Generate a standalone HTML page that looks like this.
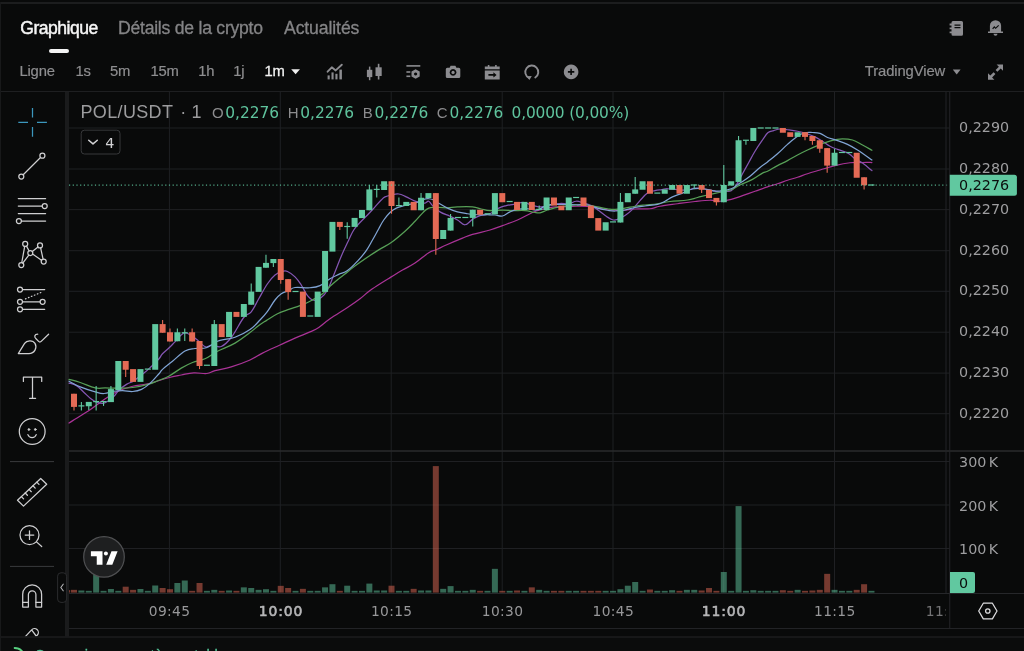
<!DOCTYPE html>
<html lang="fr">
<head>
<meta charset="utf-8">
<title>POL/USDT</title>
<style>
*{box-sizing:border-box;margin:0;padding:0}
html,body{width:1024px;height:651px;overflow:hidden;background:#090a0a}
body{position:relative;font-family:"Liberation Sans",sans-serif;color:#8e8e90}
.abs{position:absolute;white-space:nowrap}
.num{font-family:"DejaVu Sans","Liberation Sans",sans-serif}
#topline{left:0;top:2px;width:1024px;height:2px;background:#1c1d1e}
#leftline{left:0;top:2px;width:1px;height:649px;background:#18191a}
.tab{font-size:17.6px;line-height:20px;top:18px;color:#848486;-webkit-text-stroke:0.3px #848486;letter-spacing:-0.24px}
.tab.on{color:#f6f6f6;-webkit-text-stroke:0.45px #f6f6f6;letter-spacing:-0.52px}
#underline{left:49px;top:49px;width:20px;height:3.5px;border-radius:2px;background:#f4f4f4}
.tf{font-size:14.8px;line-height:18px;top:62px;color:#8e8e90;-webkit-text-stroke:0.2px #8e8e90;letter-spacing:-0.2px}
.tf.on{color:#f2f2f2;-webkit-text-stroke:0.3px #f2f2f2}
#hdiv{left:0;top:91px;width:1024px;height:1px;background:#1e1f21}
#vband{left:64.5px;top:92px;width:4.5px;height:545px;background:#1a1b1c}
#svgroot{left:0;top:0}
.pl{font-size:14.3px;line-height:16px;color:#9e9ea0;left:959.1px;letter-spacing:0px}
.tl{font-size:13.8px;line-height:16px;color:#98989a;top:603.4px;transform:translateX(-50%);letter-spacing:0.35px}
.tl.b{font-weight:normal;color:#b6b6b8;-webkit-text-stroke:0.6px #b6b6b8;letter-spacing:0.85px;font-size:13.9px}
.lg{top:101.1px;line-height:22px}
.lt{font-size:18px;color:#9c9c9e}
.lk{font-size:15px;color:#8c8c8e;top:101.5px}
.lv{font-size:15.4px;color:#5fc39d;top:102.2px}
#status{left:0;top:636px;width:1024px;height:15px;background:#0b0c0c;border-top:1px solid #202123}
#statustxt{left:34.5px;top:645.5px;font-size:14.6px;line-height:18px;color:#52c095;-webkit-text-stroke:0.3px #52c095}
</style>
</head>
<body>
<div id="wrap" style="position:absolute;left:0;top:0;width:1024px;height:651px;will-change:transform">
<div class="abs" id="topline"></div>
<div class="abs" id="leftline"></div>

<div class="abs tab on" style="left:20.3px">Graphique</div>
<div class="abs tab" style="left:118px">Détails de la crypto</div>
<div class="abs tab" style="left:284px;letter-spacing:-0.1px">Actualités</div>
<div class="abs" id="underline"></div>

<div class="abs tf" style="left:19.5px">Ligne</div>
<div class="abs tf" style="left:75.4px">1s</div>
<div class="abs tf" style="left:110px">5m</div>
<div class="abs tf" style="left:150.4px">15m</div>
<div class="abs tf" style="left:198.3px">1h</div>
<div class="abs tf" style="left:233.3px">1j</div>
<div class="abs tf on" style="left:264.4px">1m</div>
<div class="abs tf" style="left:864.8px;letter-spacing:-0.1px">TradingView</div>
<div class="abs" id="hdiv"></div>
<div class="abs" id="vband"></div>

<svg class="abs" id="svgroot" width="1024" height="651" viewBox="0 0 1024 651">
<line x1="69" y1="128.0" x2="949.5" y2="128.0" stroke="#1f2023" stroke-width="1"/>
<line x1="69" y1="169.0" x2="949.5" y2="169.0" stroke="#1f2023" stroke-width="1"/>
<line x1="69" y1="209.6" x2="949.5" y2="209.6" stroke="#1f2023" stroke-width="1"/>
<line x1="69" y1="250.7" x2="949.5" y2="250.7" stroke="#1f2023" stroke-width="1"/>
<line x1="69" y1="291.3" x2="949.5" y2="291.3" stroke="#1f2023" stroke-width="1"/>
<line x1="69" y1="332.2" x2="949.5" y2="332.2" stroke="#1f2023" stroke-width="1"/>
<line x1="69" y1="373.1" x2="949.5" y2="373.1" stroke="#1f2023" stroke-width="1"/>
<line x1="69" y1="413.7" x2="949.5" y2="413.7" stroke="#1f2023" stroke-width="1"/>
<line x1="69" y1="461.5" x2="949.5" y2="461.5" stroke="#1f2023" stroke-width="1"/>
<line x1="69" y1="505.0" x2="949.5" y2="505.0" stroke="#1f2023" stroke-width="1"/>
<line x1="69" y1="548.5" x2="949.5" y2="548.5" stroke="#1f2023" stroke-width="1"/>
<line x1="169.4" y1="92" x2="169.4" y2="592.5" stroke="#1f2023" stroke-width="1"/>
<line x1="280.3" y1="92" x2="280.3" y2="592.5" stroke="#1f2023" stroke-width="1"/>
<line x1="391.2" y1="92" x2="391.2" y2="592.5" stroke="#1f2023" stroke-width="1"/>
<line x1="502.2" y1="92" x2="502.2" y2="592.5" stroke="#1f2023" stroke-width="1"/>
<line x1="613.0" y1="92" x2="613.0" y2="592.5" stroke="#1f2023" stroke-width="1"/>
<line x1="723.7" y1="92" x2="723.7" y2="592.5" stroke="#1f2023" stroke-width="1"/>
<line x1="834.5" y1="92" x2="834.5" y2="592.5" stroke="#1f2023" stroke-width="1"/>
<rect x="71.00" y="589.85" width="6.0" height="2.75" fill="rgba(228,106,85,0.50)"/>
<rect x="78.38" y="590.50" width="6.0" height="2.10" fill="rgba(97,200,160,0.50)"/>
<rect x="85.77" y="590.85" width="6.0" height="1.75" fill="rgba(97,200,160,0.50)"/>
<rect x="93.15" y="573.85" width="6.0" height="18.75" fill="rgba(97,200,160,0.50)"/>
<rect x="100.54" y="590.85" width="6.0" height="1.75" fill="rgba(97,200,160,0.50)"/>
<rect x="107.92" y="589.00" width="6.0" height="3.60" fill="rgba(97,200,160,0.50)"/>
<rect x="115.30" y="590.85" width="6.0" height="1.75" fill="rgba(97,200,160,0.50)"/>
<rect x="122.69" y="586.70" width="6.0" height="5.90" fill="rgba(228,106,85,0.50)"/>
<rect x="130.07" y="589.85" width="6.0" height="2.75" fill="rgba(228,106,85,0.50)"/>
<rect x="137.46" y="589.00" width="6.0" height="3.60" fill="rgba(97,200,160,0.50)"/>
<rect x="144.84" y="590.85" width="6.0" height="1.75" fill="rgba(97,200,160,0.50)"/>
<rect x="152.22" y="585.50" width="6.0" height="7.10" fill="rgba(97,200,160,0.50)"/>
<rect x="159.61" y="588.00" width="6.0" height="4.60" fill="rgba(228,106,85,0.50)"/>
<rect x="166.99" y="589.20" width="6.0" height="3.40" fill="rgba(228,106,85,0.50)"/>
<rect x="174.38" y="583.00" width="6.0" height="9.60" fill="rgba(97,200,160,0.50)"/>
<rect x="181.76" y="580.50" width="6.0" height="12.10" fill="rgba(97,200,160,0.50)"/>
<rect x="189.14" y="590.85" width="6.0" height="1.75" fill="rgba(228,106,85,0.50)"/>
<rect x="196.53" y="583.00" width="6.0" height="9.60" fill="rgba(228,106,85,0.50)"/>
<rect x="203.91" y="590.85" width="6.0" height="1.75" fill="rgba(97,200,160,0.50)"/>
<rect x="211.30" y="589.85" width="6.0" height="2.75" fill="rgba(97,200,160,0.50)"/>
<rect x="218.68" y="590.85" width="6.0" height="1.75" fill="rgba(228,106,85,0.50)"/>
<rect x="226.06" y="590.50" width="6.0" height="2.10" fill="rgba(97,200,160,0.50)"/>
<rect x="233.45" y="590.85" width="6.0" height="1.75" fill="rgba(228,106,85,0.50)"/>
<rect x="240.83" y="587.35" width="6.0" height="5.25" fill="rgba(97,200,160,0.50)"/>
<rect x="248.22" y="588.00" width="6.0" height="4.60" fill="rgba(97,200,160,0.50)"/>
<rect x="255.60" y="589.85" width="6.0" height="2.75" fill="rgba(97,200,160,0.50)"/>
<rect x="262.98" y="589.20" width="6.0" height="3.40" fill="rgba(97,200,160,0.50)"/>
<rect x="270.37" y="590.85" width="6.0" height="1.75" fill="rgba(97,200,160,0.50)"/>
<rect x="277.75" y="585.85" width="6.0" height="6.75" fill="rgba(228,106,85,0.50)"/>
<rect x="285.14" y="588.00" width="6.0" height="4.60" fill="rgba(228,106,85,0.50)"/>
<rect x="292.52" y="590.85" width="6.0" height="1.75" fill="rgba(97,200,160,0.50)"/>
<rect x="299.90" y="588.85" width="6.0" height="3.75" fill="rgba(228,106,85,0.50)"/>
<rect x="307.29" y="590.85" width="6.0" height="1.75" fill="rgba(97,200,160,0.50)"/>
<rect x="314.67" y="590.85" width="6.0" height="1.75" fill="rgba(97,200,160,0.50)"/>
<rect x="322.06" y="587.35" width="6.0" height="5.25" fill="rgba(97,200,160,0.50)"/>
<rect x="329.44" y="584.20" width="6.0" height="8.40" fill="rgba(97,200,160,0.50)"/>
<rect x="336.82" y="590.85" width="6.0" height="1.75" fill="rgba(228,106,85,0.50)"/>
<rect x="344.21" y="585.70" width="6.0" height="6.90" fill="rgba(97,200,160,0.50)"/>
<rect x="351.59" y="590.85" width="6.0" height="1.75" fill="rgba(97,200,160,0.50)"/>
<rect x="358.98" y="590.85" width="6.0" height="1.75" fill="rgba(97,200,160,0.50)"/>
<rect x="366.36" y="583.60" width="6.0" height="9.00" fill="rgba(97,200,160,0.50)"/>
<rect x="373.74" y="590.50" width="6.0" height="2.10" fill="rgba(97,200,160,0.50)"/>
<rect x="381.13" y="590.50" width="6.0" height="2.10" fill="rgba(97,200,160,0.50)"/>
<rect x="388.51" y="585.70" width="6.0" height="6.90" fill="rgba(228,106,85,0.50)"/>
<rect x="395.90" y="590.85" width="6.0" height="1.75" fill="rgba(97,200,160,0.50)"/>
<rect x="403.28" y="590.85" width="6.0" height="1.75" fill="rgba(97,200,160,0.50)"/>
<rect x="410.66" y="588.85" width="6.0" height="3.75" fill="rgba(228,106,85,0.50)"/>
<rect x="418.05" y="590.50" width="6.0" height="2.10" fill="rgba(97,200,160,0.50)"/>
<rect x="425.43" y="590.50" width="6.0" height="2.10" fill="rgba(97,200,160,0.50)"/>
<rect x="432.82" y="466.10" width="6.0" height="126.50" fill="rgba(228,106,85,0.50)"/>
<rect x="440.20" y="588.85" width="6.0" height="3.75" fill="rgba(97,200,160,0.50)"/>
<rect x="447.58" y="586.10" width="6.0" height="6.50" fill="rgba(97,200,160,0.50)"/>
<rect x="454.97" y="590.85" width="6.0" height="1.75" fill="rgba(97,200,160,0.50)"/>
<rect x="462.35" y="590.85" width="6.0" height="1.75" fill="rgba(97,200,160,0.50)"/>
<rect x="469.74" y="589.85" width="6.0" height="2.75" fill="rgba(97,200,160,0.50)"/>
<rect x="477.12" y="590.85" width="6.0" height="1.75" fill="rgba(228,106,85,0.50)"/>
<rect x="484.50" y="590.85" width="6.0" height="1.75" fill="rgba(97,200,160,0.50)"/>
<rect x="491.89" y="568.85" width="6.0" height="23.75" fill="rgba(97,200,160,0.50)"/>
<rect x="499.27" y="590.85" width="6.0" height="1.75" fill="rgba(228,106,85,0.50)"/>
<rect x="506.66" y="590.85" width="6.0" height="1.75" fill="rgba(97,200,160,0.50)"/>
<rect x="514.04" y="590.50" width="6.0" height="2.10" fill="rgba(228,106,85,0.50)"/>
<rect x="521.42" y="590.85" width="6.0" height="1.75" fill="rgba(97,200,160,0.50)"/>
<rect x="528.81" y="587.35" width="6.0" height="5.25" fill="rgba(228,106,85,0.50)"/>
<rect x="536.19" y="589.85" width="6.0" height="2.75" fill="rgba(97,200,160,0.50)"/>
<rect x="543.58" y="590.85" width="6.0" height="1.75" fill="rgba(97,200,160,0.50)"/>
<rect x="550.96" y="590.85" width="6.0" height="1.75" fill="rgba(228,106,85,0.50)"/>
<rect x="558.34" y="590.85" width="6.0" height="1.75" fill="rgba(228,106,85,0.50)"/>
<rect x="565.73" y="590.85" width="6.0" height="1.75" fill="rgba(97,200,160,0.50)"/>
<rect x="573.11" y="590.85" width="6.0" height="1.75" fill="rgba(97,200,160,0.50)"/>
<rect x="580.50" y="590.85" width="6.0" height="1.75" fill="rgba(228,106,85,0.50)"/>
<rect x="587.88" y="590.85" width="6.0" height="1.75" fill="rgba(228,106,85,0.50)"/>
<rect x="595.26" y="590.85" width="6.0" height="1.75" fill="rgba(228,106,85,0.50)"/>
<rect x="602.65" y="590.85" width="6.0" height="1.75" fill="rgba(97,200,160,0.50)"/>
<rect x="610.03" y="590.85" width="6.0" height="1.75" fill="rgba(97,200,160,0.50)"/>
<rect x="617.42" y="589.20" width="6.0" height="3.40" fill="rgba(97,200,160,0.50)"/>
<rect x="624.80" y="585.70" width="6.0" height="6.90" fill="rgba(97,200,160,0.50)"/>
<rect x="632.18" y="582.00" width="6.0" height="10.60" fill="rgba(97,200,160,0.50)"/>
<rect x="639.57" y="590.85" width="6.0" height="1.75" fill="rgba(97,200,160,0.50)"/>
<rect x="646.95" y="589.50" width="6.0" height="3.10" fill="rgba(228,106,85,0.50)"/>
<rect x="654.34" y="590.85" width="6.0" height="1.75" fill="rgba(97,200,160,0.50)"/>
<rect x="661.72" y="590.85" width="6.0" height="1.75" fill="rgba(97,200,160,0.50)"/>
<rect x="669.10" y="590.20" width="6.0" height="2.40" fill="rgba(97,200,160,0.50)"/>
<rect x="676.49" y="590.85" width="6.0" height="1.75" fill="rgba(228,106,85,0.50)"/>
<rect x="683.87" y="589.85" width="6.0" height="2.75" fill="rgba(97,200,160,0.50)"/>
<rect x="691.26" y="589.85" width="6.0" height="2.75" fill="rgba(97,200,160,0.50)"/>
<rect x="698.64" y="590.50" width="6.0" height="2.10" fill="rgba(228,106,85,0.50)"/>
<rect x="706.02" y="588.00" width="6.0" height="4.60" fill="rgba(228,106,85,0.50)"/>
<rect x="713.41" y="590.85" width="6.0" height="1.75" fill="rgba(228,106,85,0.50)"/>
<rect x="720.79" y="572.00" width="6.0" height="20.60" fill="rgba(97,200,160,0.50)"/>
<rect x="728.18" y="590.85" width="6.0" height="1.75" fill="rgba(97,200,160,0.50)"/>
<rect x="735.56" y="506.10" width="6.0" height="86.50" fill="rgba(97,200,160,0.50)"/>
<rect x="742.94" y="590.85" width="6.0" height="1.75" fill="rgba(97,200,160,0.50)"/>
<rect x="750.33" y="590.20" width="6.0" height="2.40" fill="rgba(97,200,160,0.50)"/>
<rect x="757.71" y="590.85" width="6.0" height="1.75" fill="rgba(97,200,160,0.50)"/>
<rect x="765.10" y="590.85" width="6.0" height="1.75" fill="rgba(97,200,160,0.50)"/>
<rect x="772.48" y="590.85" width="6.0" height="1.75" fill="rgba(97,200,160,0.50)"/>
<rect x="779.86" y="590.20" width="6.0" height="2.40" fill="rgba(228,106,85,0.50)"/>
<rect x="787.25" y="590.85" width="6.0" height="1.75" fill="rgba(228,106,85,0.50)"/>
<rect x="794.63" y="589.85" width="6.0" height="2.75" fill="rgba(97,200,160,0.50)"/>
<rect x="802.02" y="590.85" width="6.0" height="1.75" fill="rgba(228,106,85,0.50)"/>
<rect x="809.40" y="590.50" width="6.0" height="2.10" fill="rgba(228,106,85,0.50)"/>
<rect x="816.78" y="589.85" width="6.0" height="2.75" fill="rgba(228,106,85,0.50)"/>
<rect x="824.17" y="573.85" width="6.0" height="18.75" fill="rgba(228,106,85,0.50)"/>
<rect x="831.55" y="589.85" width="6.0" height="2.75" fill="rgba(97,200,160,0.50)"/>
<rect x="838.94" y="590.85" width="6.0" height="1.75" fill="rgba(97,200,160,0.50)"/>
<rect x="846.32" y="590.85" width="6.0" height="1.75" fill="rgba(97,200,160,0.50)"/>
<rect x="853.70" y="589.85" width="6.0" height="2.75" fill="rgba(228,106,85,0.50)"/>
<rect x="861.09" y="584.20" width="6.0" height="8.40" fill="rgba(228,106,85,0.50)"/>
<rect x="868.47" y="590.85" width="6.0" height="1.75" fill="rgba(97,200,160,0.50)"/>
<rect x="69" y="590.10" width="1.2" height="2.5" fill="rgba(228,106,85,0.50)"/>
<path d="M69.00 423.00C69.75 422.52 68.75 423.08 72.75 420.60C76.75 418.12 82.50 414.97 89.00 410.60C95.50 406.23 99.50 402.62 105.25 398.75C111.00 394.88 112.25 393.75 117.75 391.25C123.25 388.75 126.75 387.75 132.75 386.25C138.75 384.75 140.42 385.50 147.75 383.75C155.08 382.00 162.70 379.25 169.40 377.50C176.10 375.75 176.38 375.92 181.25 375.00C186.12 374.08 188.62 373.20 193.75 372.90C198.88 372.60 202.65 373.96 206.90 373.50C211.15 373.04 210.13 371.92 215.00 370.60C219.87 369.28 224.25 369.02 231.25 366.90C238.25 364.78 243.75 362.76 250.00 360.00C256.25 357.24 256.50 356.10 262.50 353.10C268.50 350.10 273.50 348.00 280.00 345.00C286.50 342.00 289.00 340.72 295.00 338.10C301.00 335.48 305.25 334.02 310.00 331.90C314.75 329.78 314.75 330.13 318.75 327.50C322.75 324.87 324.25 322.75 330.00 318.75C335.75 314.75 341.50 311.50 347.50 307.50C353.50 303.50 355.50 302.13 360.00 298.75C364.50 295.37 365.25 294.05 370.00 290.60C374.75 287.15 379.50 284.24 383.75 281.50C388.00 278.76 387.50 279.20 391.25 276.90C395.00 274.60 397.75 272.76 402.50 270.00C407.25 267.24 409.75 266.55 415.00 263.10C420.25 259.65 424.50 255.42 428.75 252.75C433.00 250.08 432.75 251.30 436.25 249.75C439.75 248.20 441.00 247.33 446.25 245.00C451.50 242.67 457.25 240.22 462.50 238.10C467.75 235.98 467.00 236.02 472.50 234.40C478.00 232.78 484.00 231.76 490.00 230.00C496.00 228.24 497.00 227.60 502.50 225.60C508.00 223.60 511.50 222.62 517.50 220.00C523.50 217.38 527.50 214.62 532.50 212.50C537.50 210.38 538.40 210.46 542.50 209.40C546.60 208.34 549.50 207.70 553.00 207.20C556.50 206.70 555.35 207.09 560.00 206.90C564.65 206.71 570.75 206.33 576.25 206.25C581.75 206.17 583.25 206.13 587.50 206.50C591.75 206.87 593.50 207.45 597.50 208.10C601.50 208.75 604.00 209.32 607.50 209.75C611.00 210.18 611.50 210.15 615.00 210.25C618.50 210.35 621.00 210.50 625.00 210.25C629.00 210.00 630.00 209.30 635.00 209.00C640.00 208.70 645.00 209.30 650.00 208.75C655.00 208.20 654.50 207.25 660.00 206.25C665.50 205.25 670.50 204.70 677.50 203.75C684.50 202.80 688.50 202.20 695.00 201.50C701.50 200.80 705.00 200.30 710.00 200.25C715.00 200.20 715.75 201.42 720.00 201.25C724.25 201.08 726.75 200.53 731.25 199.40C735.75 198.27 737.75 197.23 742.50 195.60C747.25 193.97 750.00 192.99 755.00 191.25C760.00 189.51 763.00 188.40 767.50 186.90C772.00 185.40 773.50 185.08 777.50 183.75C781.50 182.42 783.50 181.55 787.50 180.25C791.50 178.95 793.50 178.55 797.50 177.25C801.50 175.95 803.00 175.20 807.50 173.75C812.00 172.30 814.50 171.63 820.00 170.00C825.50 168.37 829.00 167.05 835.00 165.60C841.00 164.15 844.50 163.37 850.00 162.75C855.50 162.13 858.12 162.55 862.50 162.50C866.88 162.45 870.02 162.50 871.90 162.50" fill="none" stroke="#aa3397" stroke-width="1.25" stroke-linejoin="round" stroke-linecap="round"/>
<path d="M69.00 383.10C70.50 383.60 73.50 383.72 76.50 385.60C79.50 387.48 81.12 389.87 84.00 392.50C86.88 395.13 88.40 396.83 90.90 398.75C93.40 400.67 94.13 401.17 96.50 402.10C98.87 403.03 100.50 403.57 102.75 403.40C105.00 403.23 105.50 402.68 107.75 401.25C110.00 399.82 111.75 398.50 114.00 396.25C116.25 394.00 116.50 392.37 119.00 390.00C121.50 387.63 123.50 386.28 126.50 384.40C129.50 382.52 130.50 382.86 134.00 380.60C137.50 378.34 140.50 375.97 144.00 373.10C147.50 370.23 148.50 369.12 151.50 366.25C154.50 363.38 156.80 361.25 159.00 358.75C161.20 356.25 160.42 356.00 162.50 353.75C164.58 351.50 166.90 349.87 169.40 347.50C171.90 345.13 172.13 344.78 175.00 341.90C177.87 339.02 180.50 334.36 183.75 333.10C187.00 331.84 188.25 333.97 191.25 335.60C194.25 337.23 195.88 338.99 198.75 341.25C201.62 343.51 202.85 346.15 205.60 346.90C208.35 347.65 209.37 345.08 212.50 345.00C215.63 344.92 217.50 348.00 221.25 346.50C225.00 345.00 226.75 343.30 231.25 337.50C235.75 331.70 239.75 322.62 243.75 317.50C247.75 312.38 248.25 315.65 251.25 311.90C254.25 308.15 255.50 304.38 258.75 298.75C262.00 293.12 264.25 288.50 267.50 283.75C270.75 279.00 272.00 277.45 275.00 275.00C278.00 272.55 280.00 272.20 282.50 271.50C285.00 270.80 285.00 270.42 287.50 271.50C290.00 272.58 292.25 274.20 295.00 276.90C297.75 279.60 298.75 281.26 301.25 285.00C303.75 288.74 305.00 292.55 307.50 295.60C310.00 298.65 311.00 299.87 313.75 300.25C316.50 300.63 318.50 299.55 321.25 297.50C324.00 295.45 325.00 294.50 327.50 290.00C330.00 285.50 331.00 281.75 333.75 275.00C336.50 268.25 338.25 263.25 341.25 256.25C344.25 249.25 346.25 245.25 348.75 240.00C351.25 234.75 351.50 233.50 353.75 230.00C356.00 226.50 357.25 225.50 360.00 222.50C362.75 219.50 364.50 218.12 367.50 215.00C370.50 211.88 372.25 209.90 375.00 206.90C377.75 203.90 379.25 202.00 381.25 200.00C383.25 198.00 383.00 197.90 385.00 196.90C387.00 195.90 388.50 195.58 391.25 195.00C394.00 194.42 395.75 193.62 398.75 194.00C401.75 194.38 403.25 195.58 406.25 196.90C409.25 198.22 411.00 199.43 413.75 200.60C416.50 201.77 417.75 202.25 420.00 202.75C422.25 203.25 423.25 203.40 425.00 203.10C426.75 202.80 427.25 200.75 428.75 201.25C430.25 201.75 430.25 203.47 432.50 205.60C434.75 207.73 436.50 209.77 440.00 211.90C443.50 214.03 446.50 214.63 450.00 216.25C453.50 217.87 454.50 218.30 457.50 220.00C460.50 221.70 462.00 224.87 465.00 224.75C468.00 224.63 469.50 221.23 472.50 219.40C475.50 217.57 476.50 216.73 480.00 215.60C483.50 214.47 486.25 215.25 490.00 213.75C493.75 212.25 495.50 209.73 498.75 208.10C502.00 206.47 503.25 206.34 506.25 205.60C509.25 204.86 510.25 205.02 513.75 204.40C517.25 203.78 520.25 202.38 523.75 202.50C527.25 202.62 528.25 204.12 531.25 205.00C534.25 205.88 536.00 206.65 538.75 206.90C541.50 207.15 542.50 206.63 545.00 206.25C547.50 205.87 548.25 205.55 551.25 205.00C554.25 204.45 556.50 203.75 560.00 203.50C563.50 203.25 565.50 204.20 568.75 203.75C572.00 203.30 573.25 201.38 576.25 201.25C579.25 201.12 580.75 202.23 583.75 203.10C586.75 203.97 588.25 204.10 591.25 205.60C594.25 207.10 595.75 208.47 598.75 210.60C601.75 212.73 603.50 214.42 606.25 216.25C609.00 218.08 610.25 219.12 612.50 219.75C614.75 220.38 615.00 220.23 617.50 219.40C620.00 218.57 622.00 217.60 625.00 215.60C628.00 213.60 629.50 212.40 632.50 209.40C635.50 206.40 637.00 203.86 640.00 200.60C643.00 197.34 644.50 195.10 647.50 193.10C650.50 191.10 652.10 191.30 655.00 190.60C657.90 189.90 659.50 189.97 662.00 189.60C664.50 189.23 664.40 188.72 667.50 188.75C670.60 188.78 673.50 189.50 677.50 189.75C681.50 190.00 684.00 190.33 687.50 190.00C691.00 189.67 691.75 188.35 695.00 188.10C698.25 187.85 700.25 188.25 703.75 188.75C707.25 189.25 709.50 189.97 712.50 190.60C715.50 191.23 716.25 191.77 718.75 191.90C721.25 192.03 722.50 191.51 725.00 191.25C727.50 190.99 729.00 191.85 731.25 190.60C733.50 189.35 734.00 188.37 736.25 185.00C738.50 181.63 740.00 178.25 742.50 173.75C745.00 169.25 746.25 167.00 748.75 162.50C751.25 158.00 752.25 155.75 755.00 151.25C757.75 146.75 759.88 143.73 762.50 140.00C765.12 136.27 765.85 134.48 768.10 132.60C770.35 130.72 771.37 131.32 773.75 130.60C776.13 129.88 777.25 129.17 780.00 129.00C782.75 128.83 784.00 129.30 787.50 129.75C791.00 130.20 793.75 130.50 797.50 131.25C801.25 132.00 802.75 132.37 806.25 133.50C809.75 134.63 811.75 135.35 815.00 136.90C818.25 138.45 819.50 139.38 822.50 141.25C825.50 143.12 827.00 144.62 830.00 146.25C833.00 147.88 834.50 148.27 837.50 149.40C840.50 150.53 842.50 150.90 845.00 151.90C847.50 152.90 848.00 153.03 850.00 154.40C852.00 155.77 852.50 157.01 855.00 158.75C857.50 160.49 859.12 160.73 862.50 163.10C865.88 165.47 870.02 169.10 871.90 170.60" fill="none" stroke="#8556b3" stroke-width="1.25" stroke-linejoin="round" stroke-linecap="round"/>
<path d="M69.00 379.40C71.25 380.02 75.00 380.80 80.25 382.50C85.50 384.20 90.25 386.82 95.25 387.90C100.25 388.98 100.75 387.86 105.25 387.90C109.75 387.94 112.25 388.18 117.75 388.10C123.25 388.02 126.75 388.24 132.75 387.50C138.75 386.76 142.50 385.85 147.75 384.40C153.00 382.95 154.80 381.88 159.00 380.25C163.20 378.62 164.30 378.68 168.75 376.25C173.20 373.82 176.50 370.85 181.25 368.10C186.00 365.35 187.75 364.37 192.50 362.50C197.25 360.63 200.00 361.00 205.00 358.75C210.00 356.50 211.50 354.38 217.50 351.25C223.50 348.12 228.50 346.85 235.00 343.10C241.50 339.35 245.25 336.00 250.00 332.50C254.75 329.00 255.50 327.98 258.75 325.60C262.00 323.22 262.50 322.97 266.25 320.60C270.00 318.23 273.00 315.99 277.50 313.75C282.00 311.51 284.25 311.03 288.75 309.40C293.25 307.77 295.75 307.23 300.00 305.60C304.25 303.97 305.50 303.62 310.00 301.25C314.50 298.88 318.50 296.75 322.50 293.75C326.50 290.75 326.75 289.25 330.00 286.25C333.25 283.25 335.25 281.62 338.75 278.75C342.25 275.88 343.65 274.90 347.50 271.90C351.35 268.90 352.00 268.01 358.00 263.75C364.00 259.49 370.85 254.85 377.50 250.60C384.15 246.35 385.75 246.37 391.25 242.50C396.75 238.63 400.25 235.50 405.00 231.25C409.75 227.00 411.50 224.88 415.00 221.25C418.50 217.62 419.75 215.73 422.50 213.10C425.25 210.47 425.75 209.22 428.75 208.10C431.75 206.98 433.75 207.57 437.50 207.50C441.25 207.43 443.50 207.87 447.50 207.75C451.50 207.63 452.50 207.07 457.50 206.90C462.50 206.73 467.75 206.48 472.50 206.90C477.25 207.32 477.75 208.26 481.25 209.00C484.75 209.74 485.75 210.40 490.00 210.60C494.25 210.80 498.00 210.00 502.50 210.00C507.00 210.00 508.00 210.48 512.50 210.60C517.00 210.72 520.75 210.27 525.00 210.60C529.25 210.93 530.75 211.81 533.75 212.25C536.75 212.69 537.25 213.25 540.00 212.80C542.75 212.35 543.50 211.18 547.50 210.00C551.50 208.82 554.25 207.90 560.00 206.90C565.75 205.90 570.75 205.38 576.25 205.00C581.75 204.62 583.25 204.62 587.50 205.00C591.75 205.38 593.50 206.15 597.50 206.90C601.50 207.65 604.00 208.25 607.50 208.75C611.00 209.25 611.50 209.53 615.00 209.40C618.50 209.27 621.00 208.73 625.00 208.10C629.00 207.47 631.00 206.87 635.00 206.25C639.00 205.63 640.50 205.50 645.00 205.00C649.50 204.50 652.50 204.45 657.50 203.75C662.50 203.05 664.00 202.25 670.00 201.50C676.00 200.75 682.00 200.80 687.50 200.00C693.00 199.20 693.00 198.62 697.50 197.50C702.00 196.38 705.50 195.45 710.00 194.40C714.50 193.35 715.75 193.18 720.00 192.25C724.25 191.32 727.25 191.20 731.25 189.75C735.25 188.30 735.75 187.07 740.00 185.00C744.25 182.93 748.00 181.78 752.50 179.40C757.00 177.02 759.50 174.73 762.50 173.10C765.50 171.47 764.50 172.75 767.50 171.25C770.50 169.75 773.50 167.73 777.50 165.60C781.50 163.47 783.50 162.72 787.50 160.60C791.50 158.48 793.50 157.12 797.50 155.00C801.50 152.88 803.50 151.88 807.50 150.00C811.50 148.12 813.50 147.22 817.50 145.60C821.50 143.98 824.00 143.02 827.50 141.90C831.00 140.78 832.00 140.63 835.00 140.00C838.00 139.37 839.00 138.75 842.50 138.75C846.00 138.75 848.50 138.75 852.50 140.00C856.50 141.25 858.62 142.95 862.50 145.00C866.38 147.05 870.02 149.20 871.90 150.25" fill="none" stroke="#57a057" stroke-width="1.25" stroke-linejoin="round" stroke-linecap="round"/>
<path d="M69.00 381.25C71.25 382.38 75.00 384.77 80.25 386.90C85.50 389.03 90.50 390.58 95.25 391.90C100.00 393.22 100.25 393.63 104.00 393.50C107.75 393.37 110.25 391.83 114.00 391.25C117.75 390.67 119.00 390.55 122.75 390.60C126.50 390.65 129.00 391.74 132.75 391.50C136.50 391.26 138.00 391.08 141.50 389.40C145.00 387.72 146.75 386.23 150.25 383.10C153.75 379.97 156.55 376.49 159.00 373.75C161.45 371.01 159.80 371.90 162.50 369.40C165.20 366.90 168.00 364.93 172.50 361.25C177.00 357.57 180.50 353.55 185.00 351.00C189.50 348.45 190.75 349.15 195.00 348.50C199.25 347.85 201.75 349.20 206.25 347.75C210.75 346.30 213.75 342.92 217.50 341.25C221.25 339.58 221.50 340.20 225.00 339.40C228.50 338.60 230.00 339.25 235.00 337.25C240.00 335.25 245.00 332.85 250.00 329.40C255.00 325.95 256.50 323.63 260.00 320.00C263.50 316.37 264.50 315.25 267.50 311.25C270.50 307.25 272.25 303.50 275.00 300.00C277.75 296.50 278.50 295.63 281.25 293.75C284.00 291.87 286.00 291.85 288.75 290.60C291.50 289.35 290.75 288.07 295.00 287.50C299.25 286.93 305.00 288.13 310.00 287.75C315.00 287.37 316.00 287.40 320.00 285.60C324.00 283.80 326.25 280.99 330.00 278.75C333.75 276.51 335.25 276.03 338.75 274.40C342.25 272.77 343.65 273.36 347.50 270.60C351.35 267.84 354.25 264.60 358.00 260.60C361.75 256.60 363.35 254.72 366.25 250.60C369.15 246.48 370.00 244.37 372.50 240.00C375.00 235.63 376.50 232.75 378.75 228.75C381.00 224.75 381.50 223.25 383.75 220.00C386.00 216.75 387.50 214.88 390.00 212.50C392.50 210.12 393.25 209.52 396.25 208.10C399.25 206.68 401.25 206.40 405.00 205.40C408.75 204.40 411.25 204.30 415.00 203.10C418.75 201.90 421.00 200.27 423.75 199.40C426.50 198.53 426.75 198.63 428.75 198.75C430.75 198.87 432.00 199.25 433.75 200.00C435.50 200.75 434.75 200.88 437.50 202.50C440.25 204.12 443.50 206.22 447.50 208.10C451.50 209.98 453.50 210.77 457.50 211.90C461.50 213.03 463.50 213.18 467.50 213.75C471.50 214.32 473.50 214.55 477.50 214.75C481.50 214.95 484.00 214.70 487.50 214.75C491.00 214.80 492.00 214.75 495.00 215.00C498.00 215.25 499.50 216.62 502.50 216.00C505.50 215.38 507.00 213.22 510.00 211.90C513.00 210.58 514.00 210.03 517.50 209.40C521.00 208.77 523.50 208.63 527.50 208.75C531.50 208.87 533.50 210.75 537.50 210.00C541.50 209.25 543.00 206.12 547.50 205.00C552.00 203.88 554.25 204.45 560.00 204.40C565.75 204.35 570.75 204.63 576.25 204.75C581.75 204.87 583.25 204.33 587.50 205.00C591.75 205.67 593.50 207.05 597.50 208.10C601.50 209.15 604.00 209.67 607.50 210.25C611.00 210.83 611.50 211.05 615.00 211.00C618.50 210.95 621.00 210.70 625.00 210.00C629.00 209.30 631.00 208.30 635.00 207.50C639.00 206.70 640.50 206.62 645.00 206.00C649.50 205.38 653.50 205.35 657.50 204.40C661.50 203.45 662.00 202.75 665.00 201.25C668.00 199.75 669.00 198.53 672.50 196.90C676.00 195.27 678.50 194.68 682.50 193.10C686.50 191.52 688.75 189.92 692.50 189.00C696.25 188.08 697.25 188.18 701.25 188.50C705.25 188.82 708.75 190.10 712.50 190.60C716.25 191.10 716.25 191.37 720.00 191.00C723.75 190.63 727.25 190.33 731.25 188.75C735.25 187.17 736.25 185.60 740.00 183.10C743.75 180.60 746.00 179.37 750.00 176.25C754.00 173.13 756.50 170.37 760.00 167.50C763.50 164.63 764.00 164.65 767.50 161.90C771.00 159.15 773.50 157.25 777.50 153.75C781.50 150.25 783.50 147.90 787.50 144.40C791.50 140.90 794.00 138.58 797.50 136.25C801.00 133.92 802.00 133.50 805.00 132.75C808.00 132.00 809.50 132.37 812.50 132.50C815.50 132.63 817.00 132.40 820.00 133.40C823.00 134.40 824.00 136.06 827.50 137.50C831.00 138.94 833.50 139.22 837.50 140.60C841.50 141.98 843.50 142.52 847.50 144.40C851.50 146.28 852.62 146.88 857.50 150.00C862.38 153.12 869.02 158.00 871.90 160.00" fill="none" stroke="#80a4d4" stroke-width="1.25" stroke-linejoin="round" stroke-linecap="round"/>
<line x1="74.00" y1="393.75" x2="74.00" y2="410.4" stroke="#e46a55" stroke-width="1.1"/>
<rect x="71.00" y="393.75" width="6.0" height="13.15" fill="#e46a55"/>
<line x1="81.38" y1="401.9" x2="81.38" y2="410.4" stroke="#61c8a0" stroke-width="1.1"/>
<rect x="78.38" y="405.30" width="6.0" height="1.20" fill="#61c8a0"/>
<line x1="88.77" y1="401.9" x2="88.77" y2="410.0" stroke="#61c8a0" stroke-width="1.1"/>
<rect x="85.77" y="401.90" width="6.0" height="4.35" fill="#61c8a0"/>
<line x1="96.15" y1="386.0" x2="96.15" y2="410.4" stroke="#61c8a0" stroke-width="1.1"/>
<rect x="93.15" y="401.00" width="6.0" height="1.20" fill="#61c8a0"/>
<line x1="103.54" y1="401.6" x2="103.54" y2="405.9" stroke="#61c8a0" stroke-width="1.1"/>
<rect x="100.54" y="401.00" width="6.0" height="1.20" fill="#61c8a0"/>
<line x1="110.92" y1="386.0" x2="110.92" y2="402.1" stroke="#61c8a0" stroke-width="1.1"/>
<rect x="107.92" y="389.10" width="6.0" height="13.00" fill="#61c8a0"/>
<rect x="115.30" y="361.00" width="6.0" height="29.00" fill="#61c8a0"/>
<line x1="125.69" y1="361.0" x2="125.69" y2="377.1" stroke="#e46a55" stroke-width="1.1"/>
<rect x="122.69" y="361.00" width="6.0" height="8.75" fill="#e46a55"/>
<rect x="130.07" y="369.10" width="6.0" height="12.80" fill="#e46a55"/>
<rect x="137.46" y="369.10" width="6.0" height="12.80" fill="#61c8a0"/>
<rect x="144.84" y="368.50" width="6.0" height="1.20" fill="#61c8a0"/>
<rect x="152.22" y="324.10" width="6.0" height="45.65" fill="#61c8a0"/>
<line x1="162.61" y1="320.0" x2="162.61" y2="332.75" stroke="#e46a55" stroke-width="1.1"/>
<rect x="159.61" y="324.10" width="6.0" height="8.65" fill="#e46a55"/>
<line x1="169.99" y1="328.5" x2="169.99" y2="341.5" stroke="#e46a55" stroke-width="1.1"/>
<rect x="166.99" y="332.25" width="6.0" height="9.25" fill="#e46a55"/>
<line x1="177.38" y1="328.5" x2="177.38" y2="341.25" stroke="#61c8a0" stroke-width="1.1"/>
<rect x="174.38" y="332.25" width="6.0" height="9.00" fill="#61c8a0"/>
<line x1="184.76" y1="328.5" x2="184.76" y2="341.0" stroke="#61c8a0" stroke-width="1.1"/>
<rect x="181.76" y="332.15" width="6.0" height="1.20" fill="#61c8a0"/>
<line x1="192.14" y1="328.5" x2="192.14" y2="341.5" stroke="#e46a55" stroke-width="1.1"/>
<rect x="189.14" y="332.25" width="6.0" height="9.25" fill="#e46a55"/>
<line x1="199.53" y1="341.0" x2="199.53" y2="369.1" stroke="#e46a55" stroke-width="1.1"/>
<rect x="196.53" y="341.00" width="6.0" height="25.00" fill="#e46a55"/>
<rect x="203.91" y="364.65" width="6.0" height="1.20" fill="#61c8a0"/>
<line x1="214.30" y1="320.0" x2="214.30" y2="366.0" stroke="#61c8a0" stroke-width="1.1"/>
<rect x="211.30" y="324.10" width="6.0" height="41.90" fill="#61c8a0"/>
<rect x="218.68" y="324.10" width="6.0" height="13.00" fill="#e46a55"/>
<rect x="226.06" y="311.90" width="6.0" height="25.20" fill="#61c8a0"/>
<rect x="233.45" y="311.90" width="6.0" height="5.00" fill="#e46a55"/>
<rect x="240.83" y="304.00" width="6.0" height="12.90" fill="#61c8a0"/>
<line x1="251.22" y1="283.5" x2="251.22" y2="304.75" stroke="#61c8a0" stroke-width="1.1"/>
<rect x="248.22" y="291.60" width="6.0" height="13.15" fill="#61c8a0"/>
<rect x="255.60" y="266.90" width="6.0" height="25.00" fill="#61c8a0"/>
<line x1="265.98" y1="254.75" x2="265.98" y2="267.75" stroke="#61c8a0" stroke-width="1.1"/>
<rect x="262.98" y="262.90" width="6.0" height="4.85" fill="#61c8a0"/>
<line x1="273.37" y1="259.0" x2="273.37" y2="266.9" stroke="#61c8a0" stroke-width="1.1"/>
<rect x="270.37" y="259.00" width="6.0" height="4.10" fill="#61c8a0"/>
<line x1="280.75" y1="259.0" x2="280.75" y2="283.75" stroke="#e46a55" stroke-width="1.1"/>
<rect x="277.75" y="259.00" width="6.0" height="21.00" fill="#e46a55"/>
<line x1="288.14" y1="279.1" x2="288.14" y2="299.75" stroke="#e46a55" stroke-width="1.1"/>
<rect x="285.14" y="279.10" width="6.0" height="13.00" fill="#e46a55"/>
<rect x="292.52" y="290.90" width="6.0" height="1.20" fill="#61c8a0"/>
<rect x="299.90" y="291.60" width="6.0" height="25.30" fill="#e46a55"/>
<rect x="307.29" y="315.40" width="6.0" height="1.20" fill="#61c8a0"/>
<rect x="314.67" y="291.60" width="6.0" height="25.30" fill="#61c8a0"/>
<rect x="322.06" y="251.00" width="6.0" height="40.90" fill="#61c8a0"/>
<rect x="329.44" y="221.90" width="6.0" height="29.70" fill="#61c8a0"/>
<line x1="339.82" y1="221.9" x2="339.82" y2="230.0" stroke="#e46a55" stroke-width="1.1"/>
<rect x="336.82" y="221.90" width="6.0" height="5.00" fill="#e46a55"/>
<line x1="347.21" y1="222.25" x2="347.21" y2="238.75" stroke="#61c8a0" stroke-width="1.1"/>
<rect x="344.21" y="225.90" width="6.0" height="1.20" fill="#61c8a0"/>
<rect x="351.59" y="217.90" width="6.0" height="9.00" fill="#61c8a0"/>
<rect x="358.98" y="210.00" width="6.0" height="8.10" fill="#61c8a0"/>
<line x1="369.36" y1="185.0" x2="369.36" y2="210.25" stroke="#61c8a0" stroke-width="1.1"/>
<rect x="366.36" y="189.40" width="6.0" height="20.85" fill="#61c8a0"/>
<line x1="376.74" y1="185.0" x2="376.74" y2="197.5" stroke="#61c8a0" stroke-width="1.1"/>
<rect x="373.74" y="188.80" width="6.0" height="1.20" fill="#61c8a0"/>
<rect x="381.13" y="181.25" width="6.0" height="8.75" fill="#61c8a0"/>
<line x1="391.51" y1="181.25" x2="391.51" y2="213.75" stroke="#e46a55" stroke-width="1.1"/>
<rect x="388.51" y="181.25" width="6.0" height="24.75" fill="#e46a55"/>
<line x1="398.90" y1="197.5" x2="398.90" y2="205.6" stroke="#61c8a0" stroke-width="1.1"/>
<rect x="395.90" y="205.00" width="6.0" height="1.20" fill="#61c8a0"/>
<rect x="403.28" y="201.90" width="6.0" height="4.10" fill="#61c8a0"/>
<rect x="410.66" y="201.90" width="6.0" height="8.35" fill="#e46a55"/>
<line x1="421.05" y1="193.1" x2="421.05" y2="210.25" stroke="#61c8a0" stroke-width="1.1"/>
<rect x="418.05" y="197.75" width="6.0" height="12.50" fill="#61c8a0"/>
<rect x="425.43" y="193.10" width="6.0" height="5.00" fill="#61c8a0"/>
<line x1="435.82" y1="193.1" x2="435.82" y2="254.75" stroke="#e46a55" stroke-width="1.1"/>
<rect x="432.82" y="193.10" width="6.0" height="45.90" fill="#e46a55"/>
<rect x="440.20" y="230.00" width="6.0" height="9.00" fill="#61c8a0"/>
<line x1="450.58" y1="214.0" x2="450.58" y2="230.6" stroke="#61c8a0" stroke-width="1.1"/>
<rect x="447.58" y="217.90" width="6.0" height="12.70" fill="#61c8a0"/>
<rect x="454.97" y="216.90" width="6.0" height="1.20" fill="#61c8a0"/>
<rect x="462.35" y="216.90" width="6.0" height="1.20" fill="#61c8a0"/>
<line x1="472.74" y1="209.75" x2="472.74" y2="226.5" stroke="#61c8a0" stroke-width="1.1"/>
<rect x="469.74" y="209.75" width="6.0" height="8.15" fill="#61c8a0"/>
<rect x="477.12" y="209.75" width="6.0" height="5.00" fill="#e46a55"/>
<rect x="484.50" y="213.15" width="6.0" height="1.20" fill="#61c8a0"/>
<rect x="491.89" y="193.10" width="6.0" height="21.30" fill="#61c8a0"/>
<rect x="499.27" y="193.10" width="6.0" height="9.15" fill="#e46a55"/>
<rect x="506.66" y="200.90" width="6.0" height="1.20" fill="#61c8a0"/>
<rect x="514.04" y="201.90" width="6.0" height="8.10" fill="#e46a55"/>
<rect x="521.42" y="201.90" width="6.0" height="8.10" fill="#61c8a0"/>
<rect x="528.81" y="201.90" width="6.0" height="8.10" fill="#e46a55"/>
<line x1="539.19" y1="205.6" x2="539.19" y2="209.4" stroke="#61c8a0" stroke-width="1.1"/>
<rect x="536.19" y="208.80" width="6.0" height="1.20" fill="#61c8a0"/>
<rect x="543.58" y="197.50" width="6.0" height="12.50" fill="#61c8a0"/>
<rect x="550.96" y="197.50" width="6.0" height="8.10" fill="#e46a55"/>
<rect x="558.34" y="205.60" width="6.0" height="4.65" fill="#e46a55"/>
<rect x="565.73" y="197.50" width="6.0" height="12.75" fill="#61c8a0"/>
<rect x="573.11" y="196.90" width="6.0" height="1.20" fill="#61c8a0"/>
<rect x="580.50" y="197.50" width="6.0" height="8.50" fill="#e46a55"/>
<rect x="587.88" y="205.60" width="6.0" height="12.50" fill="#e46a55"/>
<rect x="595.26" y="218.10" width="6.0" height="12.50" fill="#e46a55"/>
<rect x="602.65" y="222.25" width="6.0" height="8.35" fill="#61c8a0"/>
<rect x="610.03" y="221.30" width="6.0" height="1.20" fill="#61c8a0"/>
<line x1="620.42" y1="193.1" x2="620.42" y2="222.5" stroke="#61c8a0" stroke-width="1.1"/>
<rect x="617.42" y="201.90" width="6.0" height="20.60" fill="#61c8a0"/>
<rect x="624.80" y="193.10" width="6.0" height="9.15" fill="#61c8a0"/>
<line x1="635.18" y1="176.9" x2="635.18" y2="193.75" stroke="#61c8a0" stroke-width="1.1"/>
<rect x="632.18" y="189.40" width="6.0" height="4.35" fill="#61c8a0"/>
<rect x="639.57" y="181.25" width="6.0" height="8.50" fill="#61c8a0"/>
<rect x="646.95" y="181.25" width="6.0" height="12.50" fill="#e46a55"/>
<rect x="654.34" y="192.50" width="6.0" height="1.20" fill="#61c8a0"/>
<rect x="661.72" y="189.40" width="6.0" height="4.35" fill="#61c8a0"/>
<rect x="669.10" y="185.00" width="6.0" height="4.75" fill="#61c8a0"/>
<rect x="676.49" y="185.00" width="6.0" height="8.75" fill="#e46a55"/>
<rect x="683.87" y="185.00" width="6.0" height="8.75" fill="#61c8a0"/>
<line x1="694.26" y1="185.0" x2="694.26" y2="188.75" stroke="#61c8a0" stroke-width="1.1"/>
<rect x="691.26" y="184.40" width="6.0" height="1.20" fill="#61c8a0"/>
<line x1="701.64" y1="185.0" x2="701.64" y2="193.1" stroke="#e46a55" stroke-width="1.1"/>
<rect x="698.64" y="185.00" width="6.0" height="4.75" fill="#e46a55"/>
<rect x="706.02" y="189.75" width="6.0" height="8.35" fill="#e46a55"/>
<line x1="716.41" y1="197.9" x2="716.41" y2="205.6" stroke="#e46a55" stroke-width="1.1"/>
<rect x="713.41" y="197.90" width="6.0" height="4.35" fill="#e46a55"/>
<line x1="723.79" y1="165.0" x2="723.79" y2="202.25" stroke="#61c8a0" stroke-width="1.1"/>
<rect x="720.79" y="185.00" width="6.0" height="17.25" fill="#61c8a0"/>
<rect x="728.18" y="181.25" width="6.0" height="4.35" fill="#61c8a0"/>
<line x1="738.56" y1="136.0" x2="738.56" y2="181.9" stroke="#61c8a0" stroke-width="1.1"/>
<rect x="735.56" y="140.25" width="6.0" height="41.65" fill="#61c8a0"/>
<line x1="745.94" y1="140.25" x2="745.94" y2="144.75" stroke="#61c8a0" stroke-width="1.1"/>
<rect x="742.94" y="139.65" width="6.0" height="1.20" fill="#61c8a0"/>
<rect x="750.33" y="128.00" width="6.0" height="13.00" fill="#61c8a0"/>
<rect x="757.71" y="127.40" width="6.0" height="1.20" fill="#61c8a0"/>
<rect x="765.10" y="127.40" width="6.0" height="1.20" fill="#61c8a0"/>
<rect x="772.48" y="127.40" width="6.0" height="1.20" fill="#61c8a0"/>
<rect x="779.86" y="128.00" width="6.0" height="4.75" fill="#e46a55"/>
<rect x="787.25" y="132.25" width="6.0" height="4.65" fill="#e46a55"/>
<rect x="794.63" y="132.25" width="6.0" height="4.65" fill="#61c8a0"/>
<line x1="805.02" y1="132.25" x2="805.02" y2="140.25" stroke="#e46a55" stroke-width="1.1"/>
<rect x="802.02" y="132.25" width="6.0" height="4.65" fill="#e46a55"/>
<line x1="812.40" y1="136.0" x2="812.40" y2="144.75" stroke="#e46a55" stroke-width="1.1"/>
<rect x="809.40" y="136.00" width="6.0" height="5.00" fill="#e46a55"/>
<line x1="819.78" y1="140.25" x2="819.78" y2="152.75" stroke="#e46a55" stroke-width="1.1"/>
<rect x="816.78" y="140.25" width="6.0" height="8.50" fill="#e46a55"/>
<line x1="827.17" y1="148.1" x2="827.17" y2="172.75" stroke="#e46a55" stroke-width="1.1"/>
<rect x="824.17" y="148.10" width="6.0" height="17.50" fill="#e46a55"/>
<line x1="834.55" y1="148.75" x2="834.55" y2="165.6" stroke="#61c8a0" stroke-width="1.1"/>
<rect x="831.55" y="152.75" width="6.0" height="12.85" fill="#61c8a0"/>
<rect x="838.94" y="151.90" width="6.0" height="1.20" fill="#61c8a0"/>
<rect x="846.32" y="151.90" width="6.0" height="1.20" fill="#61c8a0"/>
<rect x="853.70" y="152.75" width="6.0" height="25.00" fill="#e46a55"/>
<line x1="864.09" y1="177.25" x2="864.09" y2="189.4" stroke="#e46a55" stroke-width="1.1"/>
<rect x="861.09" y="177.25" width="6.0" height="8.00" fill="#e46a55"/>
<rect x="868.47" y="184.40" width="6.0" height="1.20" fill="#61c8a0"/>
<line x1="69" y1="185.1" x2="949.5" y2="185.1" stroke="#61c8a0" stroke-width="1.1" stroke-dasharray="1.2 2.5" opacity="0.85"/>
<!-- pane separator & axes -->
<line x1="69" y1="451" x2="1024" y2="451" stroke="#2a2b2d" stroke-width="1.6"/>
<line x1="946" y1="92" x2="946" y2="593.5" stroke="#222326" stroke-width="1"/>
<line x1="949.75" y1="92" x2="949.75" y2="628.5" stroke="#242528" stroke-width="1"/>
<line x1="69" y1="593.5" x2="1024" y2="593.5" stroke="#26272a" stroke-width="1.2"/>
<line x1="69" y1="628.5" x2="1024" y2="628.5" stroke="#222326" stroke-width="1"/>
<!-- price / volume labels -->
<path d="M949.75 174.8H1014.4a2.5 2.5 0 0 1 2.5 2.5V193.3a2.5 2.5 0 0 1 -2.5 2.5H949.75Z" fill="#61c8a0"/>
<path d="M950 572.1H973a2 2 0 0 1 2 2V591.1a2 2 0 0 1 -2 2H950Z" fill="#61c8a0"/>
<!-- indicator count box -->
<rect x="81.2" y="130.2" width="38.8" height="23.8" rx="3.2" fill="#090a0a" stroke="#38393b" stroke-width="1"/>
<path d="M88.7 140.2l4.3 3.7l4.3 -3.7" fill="none" stroke="#d2d2d4" stroke-width="1.5" stroke-linecap="round" stroke-linejoin="round"/>
<!-- TradingView logo -->
<circle cx="104" cy="556.9" r="20.3" fill="#1e1f20" stroke="#505153" stroke-width="1.2"/>
<path d="M90.9 551.25H102.5V564.75H96.75V556.25H90.9Z" fill="#ffffff"/>
<circle cx="105.9" cy="553.4" r="2" fill="#ffffff"/>
<path d="M111.5 551.25H117.6L112.3 564.75H106.2Z" fill="#ffffff"/>
<!-- collapse tab -->
<rect x="57.6" y="572.8" width="9" height="29.6" rx="3.4" fill="#090a0a" stroke="#2b2c2e" stroke-width="1"/>
<path d="M63.2 584.2l-2.4 3.3l2.4 3.3" fill="none" stroke="#b5b5b7" stroke-width="1.1" stroke-linecap="round" stroke-linejoin="round"/>
<!-- left toolbar -->
<g fill="none" stroke="#cfcfd1" stroke-width="1.25" stroke-linecap="round" stroke-linejoin="round">
  <g stroke="#3c97bd" stroke-linecap="butt">
    <path d="M32.5 108.1V117.4M32.5 127V136.7M18.3 122.3H28M37 122.3H46.9"/>
  </g>
  <!-- trend line -->
  <circle cx="42.4" cy="155.7" r="2.5"/><circle cx="21.3" cy="176.5" r="2.5"/>
  <path d="M23.2 174.7L40.5 157.5"/>
  <!-- fib -->
  <path d="M18.3 198.5H45.6M18.3 206H42.1M18.3 213.5H45.6M21.6 221H45.6"/>
  <circle cx="44.7" cy="206" r="2.5"/><circle cx="18.9" cy="221" r="2.5"/>
  <!-- pattern -->
  <circle cx="25.2" cy="243.9" r="2.5"/><circle cx="40" cy="245.4" r="2.5"/><circle cx="30.3" cy="253" r="2.5"/><circle cx="21.3" cy="265" r="2.5"/><circle cx="43.7" cy="261.6" r="2.5"/>
  <path d="M24.7 246.4L21.8 262.5M26.5 246.1L29 250.8M28.8 255L22.8 263M32.3 251.5L38 246.9M40.6 247.9L43.1 259.1M32.6 254.1L41.5 260.3"/>
  <!-- forecast -->
  <circle cx="20" cy="289.5" r="2.5"/><circle cx="20" cy="301.8" r="2.5"/><circle cx="20" cy="309.3" r="2.5"/><circle cx="42.6" cy="301.8" r="2.5"/>
  <path d="M22.6 289.5H44.7M22.6 301.8H40M22.6 309.3H44.7"/>
  <path d="M25.5 298.9L41.9 292.1" stroke-dasharray="0.6 2.6"/>
  <!-- brush -->
  <path d="M18.3 353.6L24.6 343.4C26.6 340.2 32.8 339.6 35 343.4C37.4 347.8 34.6 353.6 28.9 353.6Z"/>
  <path d="M37.7 334.2C34.6 334.2 33.8 336.6 36 338.8L38.6 341.4C39.4 342.2 40.4 342.2 41.2 341.4L48.6 334.2"/>
  <!-- text -->
  <path d="M23.4 381.4V377H41.7V381.4M32.5 377V398.3M29.6 398.3H35.6"/>
  <!-- smile -->
  <circle cx="32.2" cy="431.5" r="12.9"/>
  <path d="M27.9 434.6C29.4 438.6 34.8 438.6 36.2 434.6"/>
  <circle cx="28.9" cy="429.5" r="0.9" fill="#cfcfd1" stroke-width="0.8"/><circle cx="35.3" cy="429.5" r="0.9" fill="#cfcfd1" stroke-width="0.8"/>
  <!-- ruler -->
  <path d="M17.5 500.2L40.7 478.5L46.7 484.3L23.5 506.1Z"/>
  <path d="M21.4 496.6L23.6 498.9M25.2 493L27.4 495.3M29.1 489.4L31.3 491.7M33 485.8L35.2 488.1M36.8 482.1L39 484.4"/>
  <!-- zoom -->
  <circle cx="29.5" cy="535.1" r="9.5"/>
  <path d="M25.2 535.1H33.8M29.5 530.8V539.4M36.5 541.9L41.7 546.5"/>
  <!-- magnet -->
  <path d="M22.7 607V594.3A9.45 9.45 0 0 1 41.6 594.3V607H35.9V594.6A3.75 3.75 0 0 0 28.4 594.6V607Z"/>
  <path d="M22.7 602.3H28.4M35.9 602.3H41.6"/>
  <!-- pencil (cut by status bar) -->
  <path d="M25.3 636.6L31.6 629.9A3.6 3.6 0 0 1 37.4 635L35.8 636.6M31.6 629.9L36.2 636"/>
</g>
<line x1="10" y1="461.6" x2="54" y2="461.6" stroke="#3a3b3d" stroke-width="1"/>
<line x1="10" y1="566.4" x2="54" y2="566.4" stroke="#3a3b3d" stroke-width="1"/>
<!-- top toolbar icons -->
<g fill="#8c8c90">
  <!-- carets -->
  <path d="M291.2 69.2H300L295.6 74.3Z" fill="#f0f0f0"/>
  <path d="M952.8 69.4H960.6L956.7 74.6Z"/>
  <!-- indicators -->
  <rect x="327.6" y="75.4" width="2.1" height="4"/><rect x="331.5" y="72.4" width="2.1" height="7"/><rect x="335.4" y="73.8" width="2.1" height="5.6"/><rect x="339.4" y="69.6" width="2.5" height="9.8"/>
  <path d="M327.6 71.7L331.8 67.3L335.7 70.4L341.8 64.7" fill="none" stroke="#8c8c90" stroke-width="1.9" stroke-linejoin="round" stroke-linecap="round"/>
  <!-- candles -->
  <rect x="366.9" y="69.8" width="5.4" height="7.3"/><rect x="368.9" y="66.6" width="1.5" height="13.6"/>
  <rect x="375.5" y="67.3" width="6.2" height="8.7"/><rect x="377.8" y="63.8" width="1.6" height="15.7"/>
  <!-- settings -->
  <rect x="406.4" y="65.1" width="13.9" height="1.6"/><rect x="406.4" y="71.2" width="3.9" height="1.6"/><rect x="406.4" y="75.5" width="3.9" height="1.6"/>
  <path d="M415.6 69.2L419.7 71.6V76.4L415.6 78.8L411.5 76.4V71.6Z M415.6 72.4a1.6 1.6 0 1 0 0.01 0Z" fill-rule="evenodd"/>
  <!-- camera -->
  <path d="M447.3 67.7H449.6L450.6 65.8H455.4L456.4 67.7H458.8A1.5 1.5 0 0 1 460.3 69.2V76.4A1.5 1.5 0 0 1 458.8 77.9H447.3A1.5 1.5 0 0 1 445.8 76.4V69.2A1.5 1.5 0 0 1 447.3 67.7Z M453.05 69a3.4 3.4 0 1 0 0.01 0Z" fill-rule="evenodd"/>
  <circle cx="453.05" cy="72.4" r="1.6"/>
  <!-- calendar -->
  <path d="M484.8 66.6H487.8V65H489.4V66.6H495.1V65H496.7V66.6H499.7V69.3H484.8Z"/>
  <path d="M484.8 70.4H499.7V79.4H484.8Z M488.4 74H493.4V72.3L496.6 74.9L493.4 77.5V75.8H488.4Z" fill-rule="evenodd"/>
  <!-- refresh -->
  <path d="M529 77.9A6.5 6.5 0 1 1 535.3 77.5" fill="none" stroke="#8c8c90" stroke-width="1.9" stroke-linecap="round"/>
  <path d="M526.5 76.2L531.8 76L529.4 79.9Z"/>
  <!-- plus -->
  <path d="M571.1 64.6a7.3 7.3 0 1 0 0.01 0Z M570.3 68.7H571.9V71.1H574.3V72.7H571.9V75.1H570.3V72.7H567.9V71.1H570.3Z" fill-rule="evenodd"/>
  <!-- notebook -->
  <path d="M953 21H961.5A1.5 1.5 0 0 1 963 22.5V34.3A1.5 1.5 0 0 1 961.5 35.8H953A1.5 1.5 0 0 1 951.5 34.3V33.2H949.6V31.4H951.5V29.3H949.6V27.5H951.5V25.4H949.6V23.6H951.5V22.5A1.5 1.5 0 0 1 953 21Z M954.5 24.4V25.7H960.5V24.4Z M954.5 27V28.3H960.5V27Z" fill-rule="evenodd"/>
  <!-- bell -->
  <path d="M995.5 20.2A5.6 5.6 0 0 1 1001.1 25.8V31.6H1003V32.9H988V31.6H989.9V25.8A5.6 5.6 0 0 1 995.5 20.2Z M992.2 28.4L994.3 26.1L995.6 27.4L998.3 24.9L999.1 25.8L995.6 29.1L994.3 27.8L993.1 29.2Z" fill-rule="evenodd"/>
  <path d="M993.5 33.8H997.5A2 2 0 0 1 993.5 33.8Z"/>
  <!-- expand -->
  <path d="M996.6 64.4H1003V70.8L1000.7 68.5L997.4 71.8L995.6 70L998.9 66.7Z"/>
  <path d="M994.4 79.7H988V73.3L990.3 75.6L993.6 72.3L995.4 74.1L992.1 77.4Z"/>
</g>
<!-- settings hexagon -->
<g fill="none" stroke="#dcdcde" stroke-width="1.25" stroke-linejoin="round">
  <path d="M978.7 611L983.3 603.2H992.4L997 611L992.4 618.9H983.3Z"/>
  <circle cx="987.8" cy="611" r="2.2"/>
</g>
<!-- status bar -->
<rect x="0" y="636.5" width="1024" height="14.5" fill="#0b0c0c"/>
<line x1="0" y1="637" x2="1024" y2="637" stroke="#1c1d1e" stroke-width="1.4"/>
<path d="M14.6 648A10.4 10.4 0 0 1 25 658.4" fill="none" stroke="#58d080" stroke-width="1.8" stroke-linecap="round"/>
<line x1="0.5" y1="2" x2="0.5" y2="651" stroke="#18191a" stroke-width="1"/>

</svg>

<div class="abs lg lt" style="left:80.5px;letter-spacing:0.35px">POL/USDT</div>
<div class="abs lg lt" style="left:180.3px">·</div>
<div class="abs lg lt" style="left:191.6px">1</div>
<div class="abs lg lk" style="left:211.9px">O</div>
<div class="abs lg lv num" style="left:225.3px">0,2276</div>
<div class="abs lg lk" style="left:287.8px">H</div>
<div class="abs lg lv num" style="left:300.3px">0,2276</div>
<div class="abs lg lk" style="left:362.8px">B</div>
<div class="abs lg lv num" style="left:374.5px">0,2276</div>
<div class="abs lg lk" style="left:436.8px">C</div>
<div class="abs lg lv num" style="left:449.5px">0,2276</div>
<div class="abs lg lv num" style="left:511.5px;letter-spacing:-0.15px">0,0000 (0,00%)</div>

<div class="abs num" style="left:105.3px;top:134.5px;font-size:14.4px;line-height:16px;color:#d2d2d4">4</div>

<div class="abs pl num" style="top:119.3px">0,2290</div>
<div class="abs pl num" style="top:160.1px">0,2280</div>
<div class="abs pl num" style="top:200.8px">0,2270</div>
<div class="abs pl num" style="top:241.6px">0,2260</div>
<div class="abs pl num" style="top:282.4px">0,2250</div>
<div class="abs pl num" style="top:323.1px">0,2240</div>
<div class="abs pl num" style="top:363.9px">0,2230</div>
<div class="abs pl num" style="top:404.6px">0,2220</div>
<div class="abs pl num" style="top:454.1px">300<span style="margin-left:2.4px">K</span></div>
<div class="abs pl num" style="top:497.6px">200<span style="margin-left:2.4px">K</span></div>
<div class="abs pl num" style="top:541.1px">100<span style="margin-left:2.4px">K</span></div>
<div class="abs pl num" style="top:176.6px;color:#0b0c0c">0,2276</div>
<div class="abs pl num" style="top:574.7px;color:#0b0c0c">0</div>

<div class="abs tl num" style="left:169.6px">09:45</div>
<div class="abs tl b num" style="left:281px">10:00</div>
<div class="abs tl num" style="left:391.7px">10:15</div>
<div class="abs tl num" style="left:502.6px">10:30</div>
<div class="abs tl num" style="left:613.3px">10:45</div>
<div class="abs tl b num" style="left:724px">11:00</div>
<div class="abs tl num" style="left:834.8px">11:15</div>
<div class="abs num" style="left:925.8px;top:603.4px;width:20.6px;overflow:hidden;font-size:13.8px;line-height:16px;color:#747476;letter-spacing:0.35px">11:30</div>

<div class="abs" id="statustxt">Connexion au système stable</div>
</div>
</body>
</html>
